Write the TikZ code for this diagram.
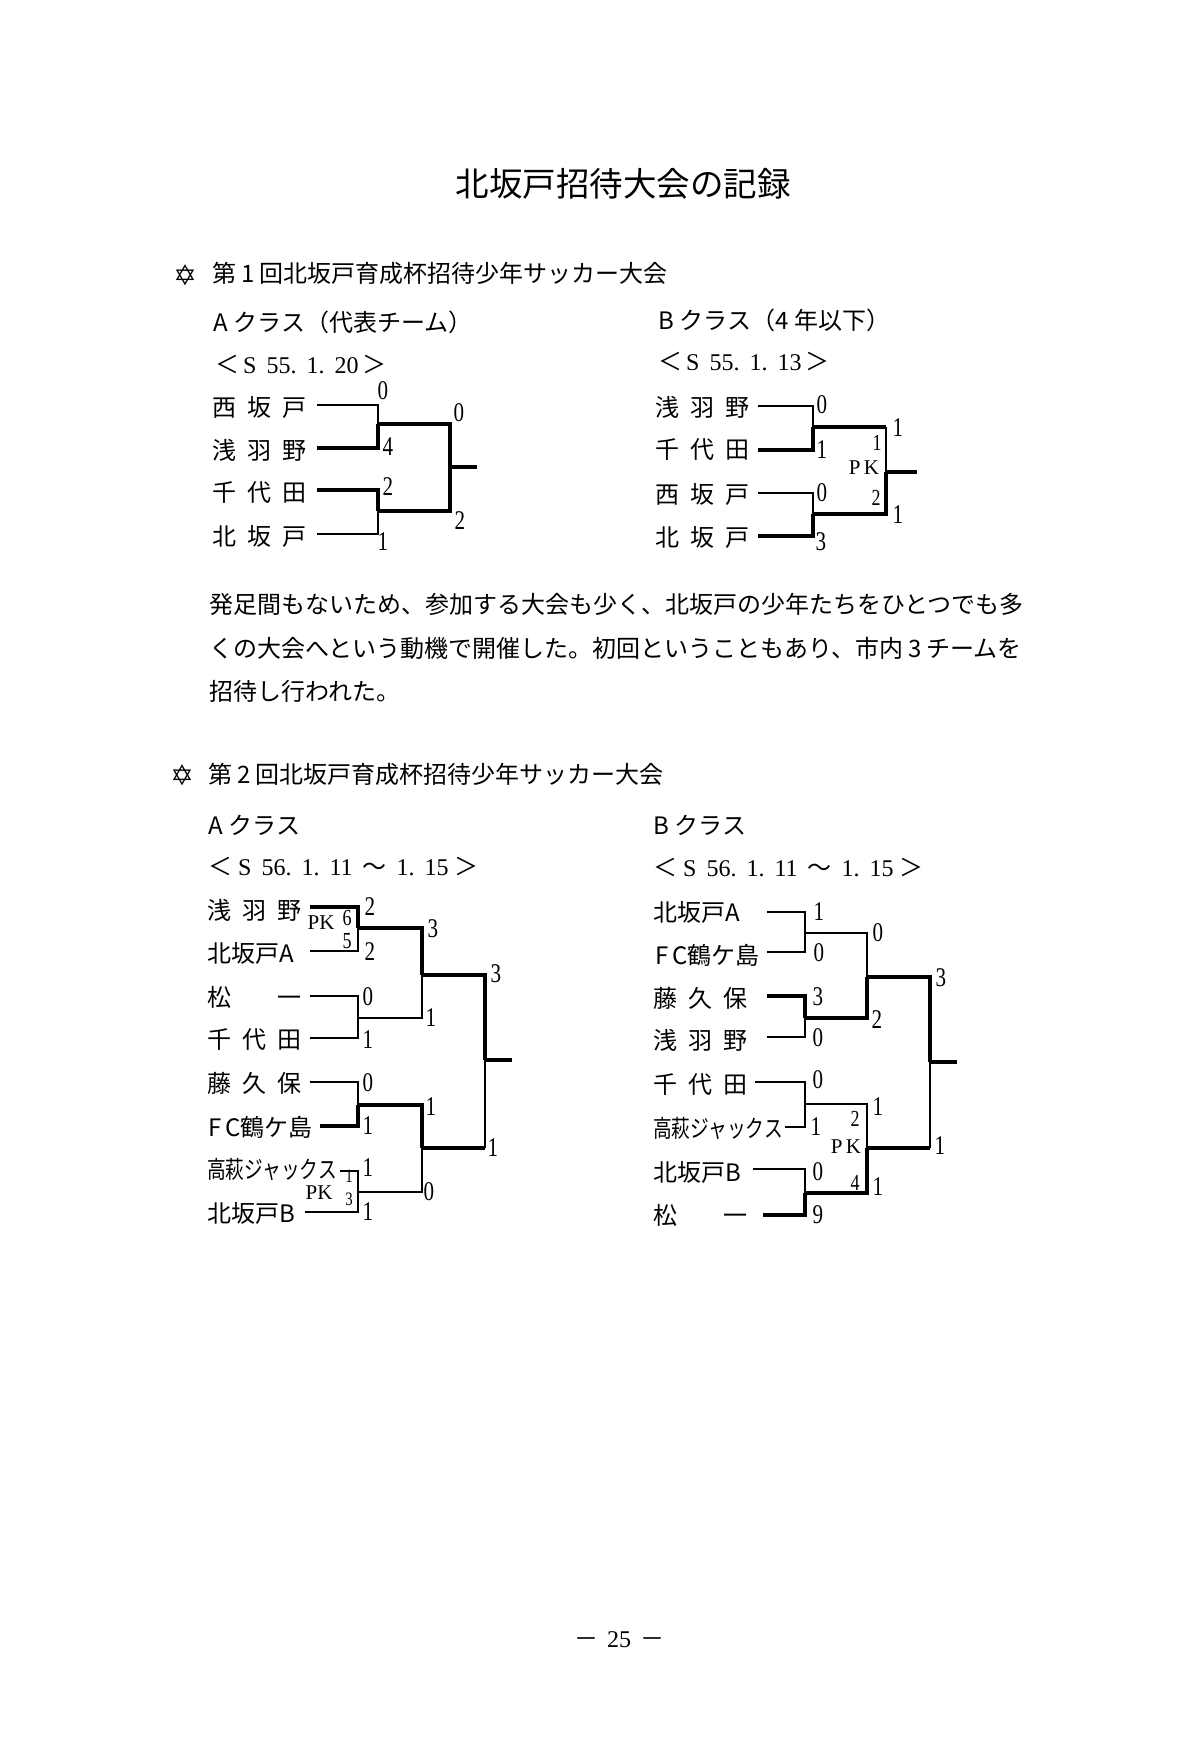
\documentclass[tikz,border=0pt]{standalone}
\usepackage{fontspec}
\usepackage{graphicx}
\setmainfont{Liberation Serif}
\newfontfamily\jp{Noto Sans CJK JP}
\newfontfamily\symb{DejaVu Sans}
\newfontfamily\narrow[FakeStretch=0.78]{Liberation Serif}
\newcommand\tname[1]{\makebox[94pt][l]{#1}}
\newcommand\dgap{\hspace{10pt}}
\tikzset{
    % Page texts - Japanese
    title/.style={inner sep=0pt, font=\jp\fontsize{33.5}{33.5}\selectfont},
    body/.style={anchor=west, inner sep=0pt, font=\jp\fontsize{24}{24}\selectfont},
    team/.style={anchor=west, inner sep=0pt, font=\jp\fontsize{24}{24}\selectfont},
    date/.style={anchor=west, inner sep=0pt, font=\fontsize{24}{24}\selectfont},
    star/.style={inner sep=0pt, font=\symb\fontsize{28}{28}\selectfont},
    % Bracket scores
    score/.style={inner sep=0pt, font=\narrow\fontsize{27}{27}\selectfont},
    pk/.style={inner sep=0pt, font=\narrow\fontsize{23}{23}\selectfont},
    small pk/.style={inner sep=0pt, font=\narrow\fontsize{19}{19}\selectfont},
    pk label/.style={inner sep=0pt, font=\fontsize{21}{21}\selectfont},
    % Bracket lines - thin for losers, thick for winners
    lose/.style={line width=1.4pt},
    win/.style={line width=3.6pt}
}
\begin{document}
\begin{tikzpicture}[x=1pt, y=-1pt]
    \fill[white] (0,0) rectangle (1200,1746);
    \useasboundingbox (0,0) rectangle (1200,1746);

    % --- Title ---
    \node[title] (title) at (623,184) {北坂戸招待大会の記録};

    % --- First tournament ---
    \node[star] (star1) at (185,275) {✡};
    \node[body] (head1) at (212,273) {第\hspace{5pt}1\hspace{5pt}回北坂戸育成杯招待少年サッカー大会};
    \node[body] (classA1) at (213,322) {A\hspace{6pt}クラス（代表チーム）};
    \node[body] (classB1) at (658,320) {B\hspace{6pt}クラス（4\hspace{6pt}年以下）};
    \node[date] (dateA1) at (215,365) {{\jp ＜}\hspace{4pt}S\dgap 55.\dgap 1.\dgap 20\hspace{4pt}{\jp ＞}};
    \node[date] (dateB1) at (658,362) {{\jp ＜}\hspace{4pt}S\dgap 55.\dgap 1.\dgap 13\hspace{4pt}{\jp ＞}};

    % A class teams
    \node[team] (a1) at (212,407) {\tname{西\hfill 坂\hfill 戸}};
    \node[team] (a2) at (212,450) {\tname{浅\hfill 羽\hfill 野}};
    \node[team] (a3) at (212,493) {\tname{千\hfill 代\hfill 田}};
    \node[team] (a4) at (212,536) {\tname{北\hfill 坂\hfill 戸}};
    \coordinate (a1s) at (317,405);
    \coordinate (a2s) at (317,448);
    \coordinate (a3s) at (317,490);
    \coordinate (a4s) at (317,534);
    \coordinate (am1) at (378,424);
    \coordinate (am2) at (378,511);
    \coordinate (af) at (450,467);
    \coordinate (afo) at (477,467);
    \draw[lose] (a1s) -| (am1);
    \draw[win] (a2s) -| (am1);
    \draw[win] (a3s) -| (am2);
    \draw[lose] (a4s) -| (am2);
    \draw[win] (am1) -| (af);
    \draw[win] (am2) -| (af);
    \draw[win] (af) -- (afo);
    \node[score] (as1) at (383,391) {0};
    \node[score] (as2) at (388,447) {4};
    \node[score] (as3) at (388,487) {2};
    \node[score] (as4) at (383,542) {1};
    \node[score] (as5) at (459,413) {0};
    \node[score] (as6) at (460,521) {2};

    % B class teams
    \node[team] (b1) at (655,407) {\tname{浅\hfill 羽\hfill 野}};
    \node[team] (b2) at (655,450) {\tname{千\hfill 代\hfill 田}};
    \node[team] (b3) at (655,494) {\tname{西\hfill 坂\hfill 戸}};
    \node[team] (b4) at (655,537) {\tname{北\hfill 坂\hfill 戸}};
    \coordinate (b1s) at (758,406);
    \coordinate (b2s) at (758,450);
    \coordinate (b3s) at (758,493);
    \coordinate (b4s) at (758,536);
    \coordinate (bm1) at (813,427);
    \coordinate (bm2) at (813,514);
    \coordinate (bf) at (886,472);
    \coordinate (bfo) at (917,472);
    \draw[lose] (b1s) -| (bm1);
    \draw[win] (b2s) -| (bm1);
    \draw[lose] (b3s) -| (bm2);
    \draw[win] (b4s) -| (bm2);
    \draw[win] (bm1) -- (bm1 -| bf);
    \draw[lose] (bm1 -| bf) -- (bf);
    \draw[win] (bm2) -| (bf);
    \draw[win] (bf) -- (bfo);
    \node[score] (bs1) at (822,405) {0};
    \node[score] (bs2) at (822,450) {1};
    \node[score] (bs3) at (822,493) {0};
    \node[score] (bs4) at (821,542) {3};
    \node[score] (bs5) at (898,428) {1};
    \node[score] (bs6) at (898,515) {1};
    \node[pk] (bp1) at (877,443) {1};
    \node[pk label] (bpk) at (864,468) {P\,K};
    \node[pk] (bp2) at (876,498) {2};

    % --- Remarks ---
    \node[body] (p1) at (209,604) {発足間もないため、参加する大会も少く、北坂戸の少年たちをひとつでも多};
    \node[body] (p2) at (209,648) {くの大会へという動機で開催した。初回ということもあり、市内\hspace{5pt}3\hspace{5pt}チームを};
    \node[body] (p3) at (209,691) {招待し行われた。};

    % --- Second tournament ---
    \node[star] (star2) at (182,775) {✡};
    \node[body] (head2) at (208,774) {第\hspace{5pt}2\hspace{5pt}回北坂戸育成杯招待少年サッカー大会};
    \node[body] (classA2) at (208,825) {A\hspace{6pt}クラス};
    \node[body] (classB2) at (653,825) {B\hspace{6pt}クラス};
    \node[date] (dateA2) at (208,867) {{\jp ＜}\hspace{6pt}S\dgap 56.\dgap 1.\dgap 11\dgap{\jp ～}\dgap 1.\dgap 15\hspace{6pt}{\jp ＞}};
    \node[date] (dateB2) at (653,868) {{\jp ＜}\hspace{6pt}S\dgap 56.\dgap 1.\dgap 11\dgap{\jp ～}\dgap 1.\dgap 15\hspace{6pt}{\jp ＞}};

    % A class teams
    \node[team] (c1) at (207,910) {\tname{浅\hfill 羽\hfill 野}};
    \node[team] (c2) at (207,953) {北坂戸A};
    \node[team] (c3) at (207,997) {\tname{松\hfill 一}};
    \node[team] (c4) at (207,1040) {\tname{千\hfill 代\hfill 田}};
    \node[team] (c5) at (207,1083) {\tname{藤\hfill 久\hfill 保}};
    \node[team] (c6) at (208,1127) {F\,C鶴ケ島};
    \node[team] (c7) at (207,1169) {\scalebox{0.78}[1]{高萩ジャックス}};
    \node[team] (c8) at (207,1213) {北坂戸B};
    \coordinate (c1s) at (310,907);
    \coordinate (c2s) at (310,951);
    \coordinate (c3s) at (310,996);
    \coordinate (c4s) at (310,1038);
    \coordinate (c5s) at (310,1082);
    \coordinate (c6s) at (320,1126);
    \coordinate (c7s) at (340,1171);
    \coordinate (c8s) at (305,1212);
    \coordinate (cm1) at (358,928);
    \coordinate (cm2) at (358,1018);
    \coordinate (cm3) at (358,1105);
    \coordinate (cm4) at (358,1192);
    \coordinate (cs1) at (422,975);
    \coordinate (cs2) at (422,1148);
    \coordinate (cf) at (485,1060);
    \coordinate (cfo) at (512,1060);
    \draw[win] (c1s) -| (cm1);
    \draw[lose] (c2s) -| (cm1);
    \draw[lose] (c3s) -| (cm2);
    \draw[lose] (c4s) -| (cm2);
    \draw[lose] (c5s) -| (cm3);
    \draw[win] (c6s) -| (cm3);
    \draw[lose] (c7s) -| (cm4);
    \draw[lose] (c8s) -| (cm4);
    \draw[win] (cm1) -| (cs1);
    \draw[lose] (cm2) -| (cs1);
    \draw[win] (cm3) -| (cs2);
    \draw[lose] (cm4) -| (cs2);
    \draw[win] (cs1) -| (cf);
    \draw[win] (cs2) -- (cs2 -| cf);
    \draw[lose] (cs2 -| cf) -- (cf);
    \draw[win] (cf) -- (cfo);
    \node[score] (cs1a) at (370,907) {2};
    \node[score] (cs2a) at (370,952) {2};
    \node[score] (cs3a) at (368,997) {0};
    \node[score] (cs4a) at (368,1040) {1};
    \node[score] (cs5a) at (368,1083) {0};
    \node[score] (cs6a) at (368,1126) {1};
    \node[score] (cs7a) at (368,1168) {1};
    \node[score] (cs8a) at (368,1212) {1};
    \node[score] (cq1) at (433,929) {3};
    \node[score] (cq2) at (431,1018) {1};
    \node[score] (cq3) at (431,1107) {1};
    \node[score] (cq4) at (429,1192) {0};
    \node[score] (cf1) at (496,974) {3};
    \node[score] (cf2) at (493,1148) {1};
    \node[pk label] (cpk1) at (321,923) {PK};
    \node[pk] (cp1) at (347,918) {6};
    \node[pk] (cp2) at (347,941) {5};
    \node[pk label] (cpk2) at (319,1193) {PK};
    \node[small pk] (cp3) at (349,1176) {1};
    \node[small pk] (cp4) at (349,1199) {3};

    % B class teams
    \node[team] (d1) at (653,912) {北坂戸A};
    \node[team] (d2) at (655,955) {F\,C鶴ケ島};
    \node[team] (d3) at (653,998) {\tname{藤\hfill 久\hfill 保}};
    \node[team] (d4) at (653,1040) {\tname{浅\hfill 羽\hfill 野}};
    \node[team] (d5) at (653,1085) {\tname{千\hfill 代\hfill 田}};
    \node[team] (d6) at (653,1128) {\scalebox{0.78}[1]{高萩ジャックス}};
    \node[team] (d7) at (653,1172) {北坂戸B};
    \node[team] (d8) at (653,1215) {\tname{松\hfill 一}};
    \coordinate (d1s) at (767,912);
    \coordinate (d2s) at (767,952);
    \coordinate (d3s) at (767,996);
    \coordinate (d4s) at (767,1037);
    \coordinate (d5s) at (755,1082);
    \coordinate (d6s) at (785,1127);
    \coordinate (d7s) at (753,1169);
    \coordinate (d8s) at (763,1215);
    \coordinate (dm1) at (805,933);
    \coordinate (dm2) at (805,1018);
    \coordinate (dm3) at (805,1104);
    \coordinate (dm4) at (805,1193);
    \coordinate (ds1) at (867,977);
    \coordinate (ds2) at (867,1148);
    \coordinate (df) at (930,1062);
    \coordinate (dfo) at (957,1062);
    \draw[lose] (d1s) -| (dm1);
    \draw[lose] (d2s) -| (dm1);
    \draw[win] (d3s) -| (dm2);
    \draw[lose] (d4s) -| (dm2);
    \draw[lose] (d5s) -| (dm3);
    \draw[lose] (d6s) -| (dm3);
    \draw[lose] (d7s) -| (dm4);
    \draw[win] (d8s) -| (dm4);
    \draw[lose] (dm1) -| (ds1);
    \draw[win] (dm2) -| (ds1);
    \draw[lose] (dm3) -| (ds2);
    \draw[win] (dm4) -| (ds2);
    \draw[win] (ds1) -| (df);
    \draw[win] (ds2) -- (ds2 -| df);
    \draw[lose] (ds2 -| df) -- (df);
    \draw[win] (df) -- (dfo);
    \node[score] (ds1a) at (819,912) {1};
    \node[score] (ds2a) at (819,953) {0};
    \node[score] (ds3a) at (818,997) {3};
    \node[score] (ds4a) at (818,1038) {0};
    \node[score] (ds5a) at (818,1080) {0};
    \node[score] (ds6a) at (816,1127) {1};
    \node[score] (ds7a) at (818,1172) {0};
    \node[score] (ds8a) at (818,1215) {9};
    \node[score] (dq1) at (878,933) {0};
    \node[score] (dq2) at (877,1020) {2};
    \node[score] (dq3) at (878,1107) {1};
    \node[score] (dq4) at (878,1187) {1};
    \node[score] (df1) at (941,978) {3};
    \node[score] (df2) at (940,1146) {1};
    \node[pk] (dp1) at (855,1119) {2};
    \node[pk label] (dpk) at (846,1147) {P\,K};
    \node[pk] (dp2) at (855,1183) {4};

    % --- Page number ---
    \node[date] (page) at (574,1640) {{\jp －}\hspace{9pt}25\hspace{9pt}{\jp －}};
\end{tikzpicture}
\end{document}
